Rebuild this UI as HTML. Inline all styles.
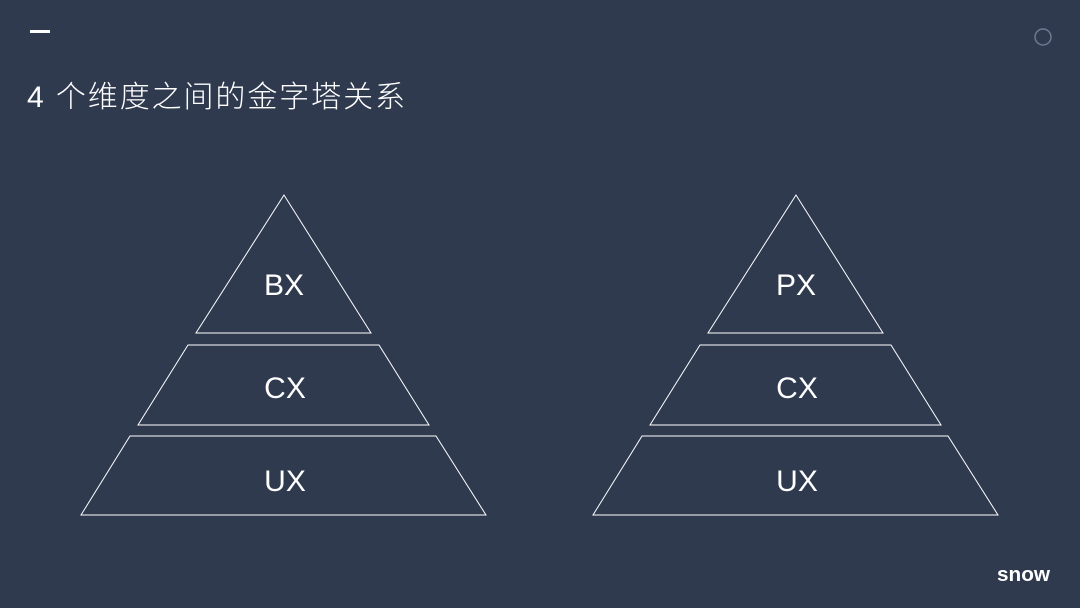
<!DOCTYPE html>
<html><head><meta charset="utf-8"><style>
html,body{margin:0;padding:0;background:#2f3a4f;}
svg{display:block}
text{font-family:"Liberation Sans","Noto Sans CJK SC",sans-serif;fill:#fff}
</style></head><body>
<svg width="1080" height="608" viewBox="0 0 1080 608">
<rect width="1080" height="608" fill="#2f3a4f"/>
<rect x="30" y="30" width="20" height="3" fill="#fff"/>
<circle cx="1043" cy="37" r="8" fill="none" stroke="#6d7a93" stroke-width="1.5"/>
<text x="27" y="107" font-size="30" font-weight="300" textLength="378" lengthAdjust="spacing">4 个维度之间的金字塔关系</text>
<g fill="none" stroke="#fff" stroke-width="1">
<polygon points="284,195 196,333 371,333"/>
<polygon points="188,345 379,345 429,425 138,425"/>
<polygon points="130,436 436,436 486,515 81,515"/>
<polygon points="796,195 708,333 883,333"/>
<polygon points="700,345 891,345 941,425 650,425"/>
<polygon points="642,436 948,436 998,515 593,515"/>
</g>
<g font-size="30" text-anchor="middle">
<text x="284" y="295">BX</text>
<text x="285" y="398">CX</text>
<text x="285" y="491">UX</text>
<text x="796" y="295">PX</text>
<text x="797" y="398">CX</text>
<text x="797" y="491">UX</text>
</g>
<text x="997" y="581" font-size="20" font-weight="bold" textLength="53" lengthAdjust="spacingAndGlyphs">snow</text>
</svg>
</body></html>
